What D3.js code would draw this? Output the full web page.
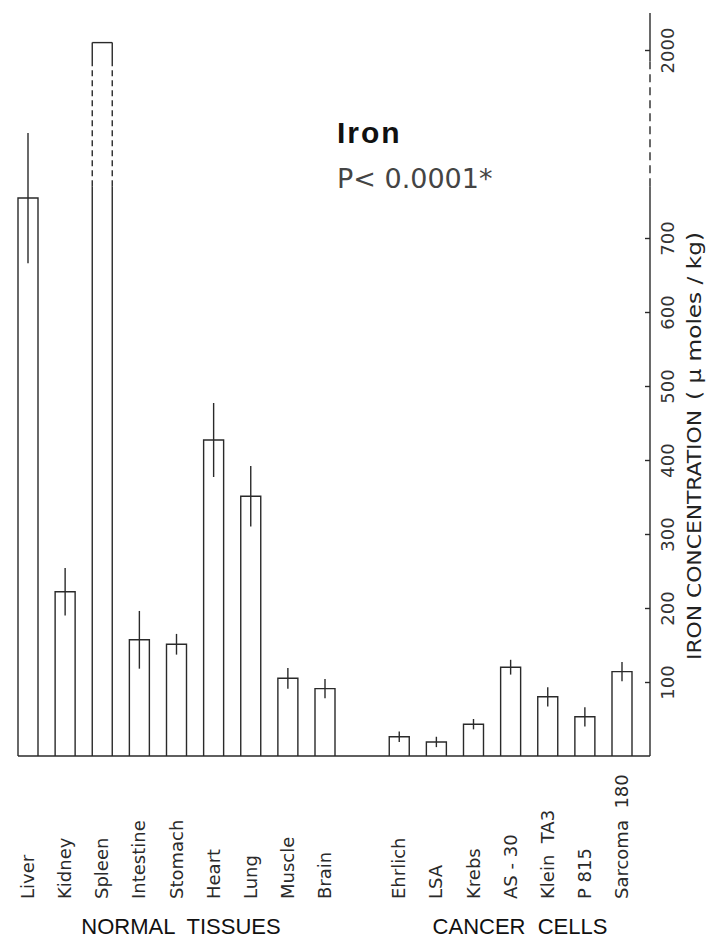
<!DOCTYPE html>
<html>
<head>
<meta charset="utf-8">
<script src="https://cdn.jsdelivr.net/npm/d3@7"></script>
<style>
  body { margin: 0; background: #fff; }
  text { white-space: pre; }
</style>
</head>
<body>
<div id="chart"></div>
<script>
// iron concentration, normal tissues vs cancer cells

var normalTissues = ["Liver", "Kidney", "Spleen", "Intestine", "Stomach", "Heart", "Lung", "Muscle", "Brain"];
var normalValues  = [754, 222, 2010, 157, 151, 427, 351, 105, 91];
var normalErrors  = [88, 32, 0, 39, 14, 50, 41, 14, 13];

var cancerCells  = ["Ehrlich", "LSA", "Krebs", "AS - 30", "Klein  TA3", "P 815", "Sarcoma  180"];
var cancerValues = [26, 19, 43, 120, 80, 53, 114];
var cancerErrors = [7, 7, 7, 10, 13, 13, 13];

var lowTicks  = [100, 200, 300, 400, 500, 600, 700];
var highTicks = [2000];
var breakLow  = 770, breakHigh = 1985, axisTop = 2050;

var w_width = 708, w_height = 940;
var ink = "#2a2a2a";

var svg = d3.select("#chart").append("svg")
  .attr("width", w_width)
  .attr("height", w_height)

var bars = normalTissues.map(function(d, i) {
  return {name: d, value: normalValues[i], err: normalErrors[i]}
}).concat(cancerCells.map(function(d, i) {
  return {name: d, value: cancerValues[i], err: cancerErrors[i]}
}))

var x = d3.scalePoint()
  .domain(normalTissues.concat(["_gap"], cancerCells))
  .range([28, 622])

// linear part of the axis, and the piece above the break
var y = d3.scaleLinear().domain([0, 700]).range([756, 238])
var yTop = d3.scaleLinear().domain([2000, 2100]).range([50, 50 - 74])

var barW = 20;
var axisX = 650;

// bars (spleen is broken, drawn in pieces)
bars.forEach(function(d) {
  var cx = x(d.name), x0 = cx - barW / 2, x1 = cx + barW / 2;
  var g = svg.append("g").attr("fill", "none").attr("stroke", ink).attr("stroke-width", 1.4)
  if (d.value > breakLow) {
    [x0, x1].forEach(function(xx) {
      g.append("line").attr("x1", xx).attr("x2", xx).attr("y1", y(0)).attr("y2", y(breakLow))
      g.append("line").attr("x1", xx).attr("x2", xx).attr("y1", y(breakLow)).attr("y2", yTop(breakHigh))
        .style("stroke-dasharray", "6, 4")
      g.append("line").attr("x1", xx).attr("x2", xx).attr("y1", yTop(breakHigh)).attr("y2", yTop(d.value))
    })
    g.append("line").attr("x1", x0).attr("x2", x1).attr("y1", yTop(d.value)).attr("y2", yTop(d.value))
  } else {
    g.append("path")
      .attr("d", "M" + x0 + "," + y(0) + "V" + y(d.value) + "H" + x1 + "V" + y(0))
    if (d.err > 0) {
      g.append("line").attr("x1", cx).attr("x2", cx)
        .attr("y1", y(d.value - d.err)).attr("y2", y(d.value + d.err))
    }
  }
})

// baseline
svg.append("line").attr("x1", 18).attr("x2", axisX).attr("y1", y(0)).attr("y2", y(0))
  .attr("stroke", ink).attr("stroke-width", 1.4)

// y axis on the right, with a break
var axisG = svg.append("g").attr("stroke", ink).attr("stroke-width", 1.4)
axisG.append("line").attr("x1", axisX).attr("x2", axisX).attr("y1", y(0)).attr("y2", y(breakLow))
axisG.append("line").attr("x1", axisX).attr("x2", axisX).attr("y1", y(breakLow)).attr("y2", yTop(breakHigh))
  .style("stroke-dasharray", "8, 5")
axisG.append("line").attr("x1", axisX).attr("x2", axisX).attr("y1", yTop(breakHigh)).attr("y2", yTop(axisTop))

function styleAxis(g) {
  g.select(".domain").remove()
  g.selectAll(".tick line").attr("stroke", ink).attr("stroke-width", 1.4)
  g.selectAll(".tick text")
    .attr("x", null).attr("dy", null)
    .attr("transform", "translate(24,0) rotate(-90)")
    .attr("text-anchor", "middle")
    .attr("fill", "#333")
    .style("font-family", "DejaVu Sans")
    .style("font-size", "18px")
}

svg.append("g").attr("transform", "translate(" + axisX + ",0)")
  .call(d3.axisRight(y).tickValues(lowTicks).tickSize(-5).tickFormat(d3.format("d")))
  .call(styleAxis)
svg.append("g").attr("transform", "translate(" + axisX + ",0)")
  .call(d3.axisRight(yTop).tickValues(highTicks).tickSize(-5).tickFormat(d3.format("d")))
  .call(styleAxis)

// axis title
svg.append("text").text("IRON CONCENTRATION")
  .attr("transform", "translate(701,660) rotate(-90)")
  .attr("textLength", 250).attr("lengthAdjust", "spacingAndGlyphs")
  .attr("fill", "#222").style("font-family", "DejaVu Sans").style("font-size", "20px")
svg.append("text").text("( \u03bc moles / kg)")
  .attr("transform", "translate(701,400) rotate(-90)")
  .attr("textLength", 168).attr("lengthAdjust", "spacingAndGlyphs")
  .attr("fill", "#222").style("font-family", "DejaVu Sans").style("font-size", "20px")

// category labels
svg.selectAll(".cat").data(bars).enter().append("text")
  .attr("class", "cat")
  .text(function(d) { return d.name })
  .attr("transform", function(d) { return "translate(" + (x(d.name) + 6) + ",899) rotate(-90)" })
  .attr("fill", "#2a2a2a")
  .style("font-family", "DejaVu Sans")
  .style("font-size", "18px")

// group labels
var groupLabels = [
  {text: "NORMAL  TISSUES", cx: 181},
  {text: "CANCER  CELLS", cx: 520}
]
svg.selectAll(".grp").data(groupLabels).enter().append("text")
  .attr("class", "grp")
  .text(function(d) { return d.text })
  .attr("x", function(d) { return d.cx }).attr("y", 934)
  .attr("text-anchor", "middle")
  .attr("fill", "#111")
  .style("font-family", "Liberation Sans")
  .style("font-size", "22px")

// title
svg.append("text").text("Iron")
  .attr("x", 337).attr("y", 143)
  .attr("fill", "#111")
  .style("font-family", "Liberation Sans").style("font-weight", "bold")
  .style("font-size", "30px").style("letter-spacing", "2px")
svg.append("text").text("P< 0.0001*")
  .attr("x", 337).attr("y", 188)
  .attr("fill", "#444")
  .style("font-family", "DejaVu Sans")
  .style("font-size", "27px")
</script>
</body>
</html>
